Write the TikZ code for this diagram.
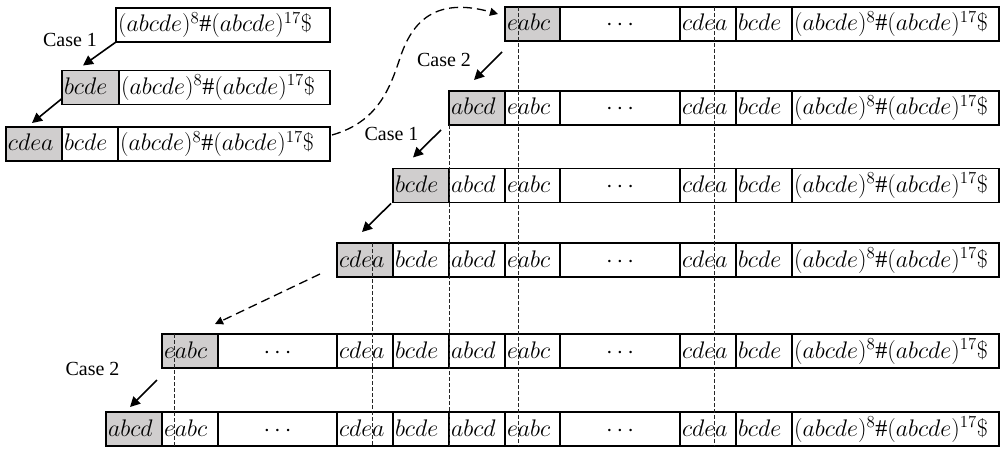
\RequirePackage{fix-cm}
\documentclass[tikz,border=0pt]{standalone}
\usepackage{fontspec}
\setmainfont{Liberation Serif}
\usetikzlibrary{arrows.meta,calc}
\definecolor{cellgray}{RGB}{208,206,206}
\newcommand\LT{$(abcde)^{8}\#(abcde)^{17}\$$}
\newcommand\DT{\hbox to \hsize{\hss$\cdots$\hss}}
\newcommand\cellrow[3]{%
  \foreach \xa/\xb/\fl/\tx [count=\k] in {#3}{%
    \pgfmathsetmacro\tw{\xb-\xa-4}%
    \node[cell,fill=\fl,text width=\tw pt] (#1-\k) at (\xa,#2) {\tx};%
  }}
\tikzset{
  cell/.style={draw,line width=1.3pt,anchor=west,outer sep=0pt,inner xsep=2pt,inner ysep=0pt,
    minimum height=34pt,align=left,text height=17pt,text depth=3pt,font=\fontsize{24}{27}\selectfont},
  conn/.style={line width=1.6pt,-{Triangle[length=10pt,width=10pt]}},
  dconn/.style={line width=1.3pt,dash pattern=on 9pt off 5pt,-{Triangle[length=8pt,width=8pt]}},
  guide/.style={line width=0.7pt,black!85,dash pattern=on 4pt off 2pt},
  lab/.style={font=\fontsize{20}{23}\selectfont,inner sep=0pt}
}
\begin{document}
\begin{tikzpicture}[x=1pt,y=-1pt]
\useasboundingbox (0,0) rectangle (1000,449);
% left group
\cellrow{L1}{25}{116/330/white/\LT}
\cellrow{L2}{87.5}{62/119/cellgray/{$bcde$},119/330/white/\LT}
\cellrow{L3}{144}{6/62/cellgray/{$cdea$},62/118/white/{$bcde$},118/330/white/\LT}
% right group
\cellrow{R1}{24}{505/560/cellgray/{$eabc$},560/680/white/\DT,680/736/white/{$cdea$},736/792/white/{$bcde$},792/999/white/\LT}
\cellrow{R2}{108}{449/505/cellgray/{$abcd$},505/560/white/{$eabc$},560/680/white/\DT,680/736/white/{$cdea$},736/792/white/{$bcde$},792/999/white/\LT}
\cellrow{R3}{185.5}{393/449/cellgray/{$bcde$},449/505/white/{$abcd$},505/560/white/{$eabc$},560/680/white/\DT,680/736/white/{$cdea$},736/792/white/{$bcde$},792/999/white/\LT}
\cellrow{R4}{260}{337/393/cellgray/{$cdea$},393/449/white/{$bcde$},449/505/white/{$abcd$},505/560/white/{$eabc$},560/680/white/\DT,680/736/white/{$cdea$},736/792/white/{$bcde$},792/999/white/\LT}
\cellrow{R5}{351}{162/218/cellgray/{$eabc$},218/337/white/\DT,337/393/white/{$cdea$},393/449/white/{$bcde$},449/505/white/{$abcd$},505/560/white/{$eabc$},560/680/white/\DT,680/736/white/{$cdea$},736/792/white/{$bcde$},792/999/white/\LT}
\cellrow{R6}{429}{106/162/cellgray/{$abcd$},162/218/white/{$eabc$},218/337/white/\DT,337/393/white/{$cdea$},393/449/white/{$bcde$},449/505/white/{$abcd$},505/560/white/{$eabc$},560/680/white/\DT,680/736/white/{$cdea$},736/792/white/{$bcde$},792/999/white/\LT}
% dashed guide lines
\draw[guide] (518,7) -- (518,446);
\draw[guide] (714,7) -- (714,446);
\draw[guide] (449,125) -- (449,446);
\draw[guide] (372,243) -- (372,446);
\draw[guide] (174,334) -- (174,446);
% labels
\node[lab] (c1) at (70,40) {Case 1};
\node[lab] (c2) at (444,60) {Case 2};
\node[lab] (c3) at (391.5,134) {Case 1};
\node[lab] (c4) at (92.5,369) {Case 2};
% arrows
\draw[conn] (L1-1.south west) -- ($(L2-1.north)+(-7.5,-5)$);
\draw[conn] ($(L2-1.south west)+(0,-6)$) -- ($(L3-1.north)+(-2,-4)$);
\draw[conn] ($(R1-1.south west)+(-3,11)$) -- ($(R2-1.north)+(-3,-11)$);
\draw[conn] ($(R2-1.south west)+(-8,5)$) -- ($(R3-1.north)+(-8,-11)$);
\draw[conn] ($(R3-1.south west)+(-2,1)$) -- ($(R4-1.north)+(-3,-11)$);
\draw[dconn] ($(R4-1.south west)+(-17,-3)$) -- ($(R5-1.north east)+(-3,-10)$);
\draw[conn] ($(R5-1.south west)+(-5,12)$) -- ($(R6-1.north)+(-4,-5)$);
\coordinate (cs) at ($(L3-3.east)+(2,-9)$);
\coordinate (ce) at ($(R1-1.west)+(-7,-10)$);
\draw[dconn] (cs) .. controls (378,122) and (390,88) .. (400,58) .. controls (410,28) and (430,-5) .. (ce);
\end{tikzpicture}
\end{document}
